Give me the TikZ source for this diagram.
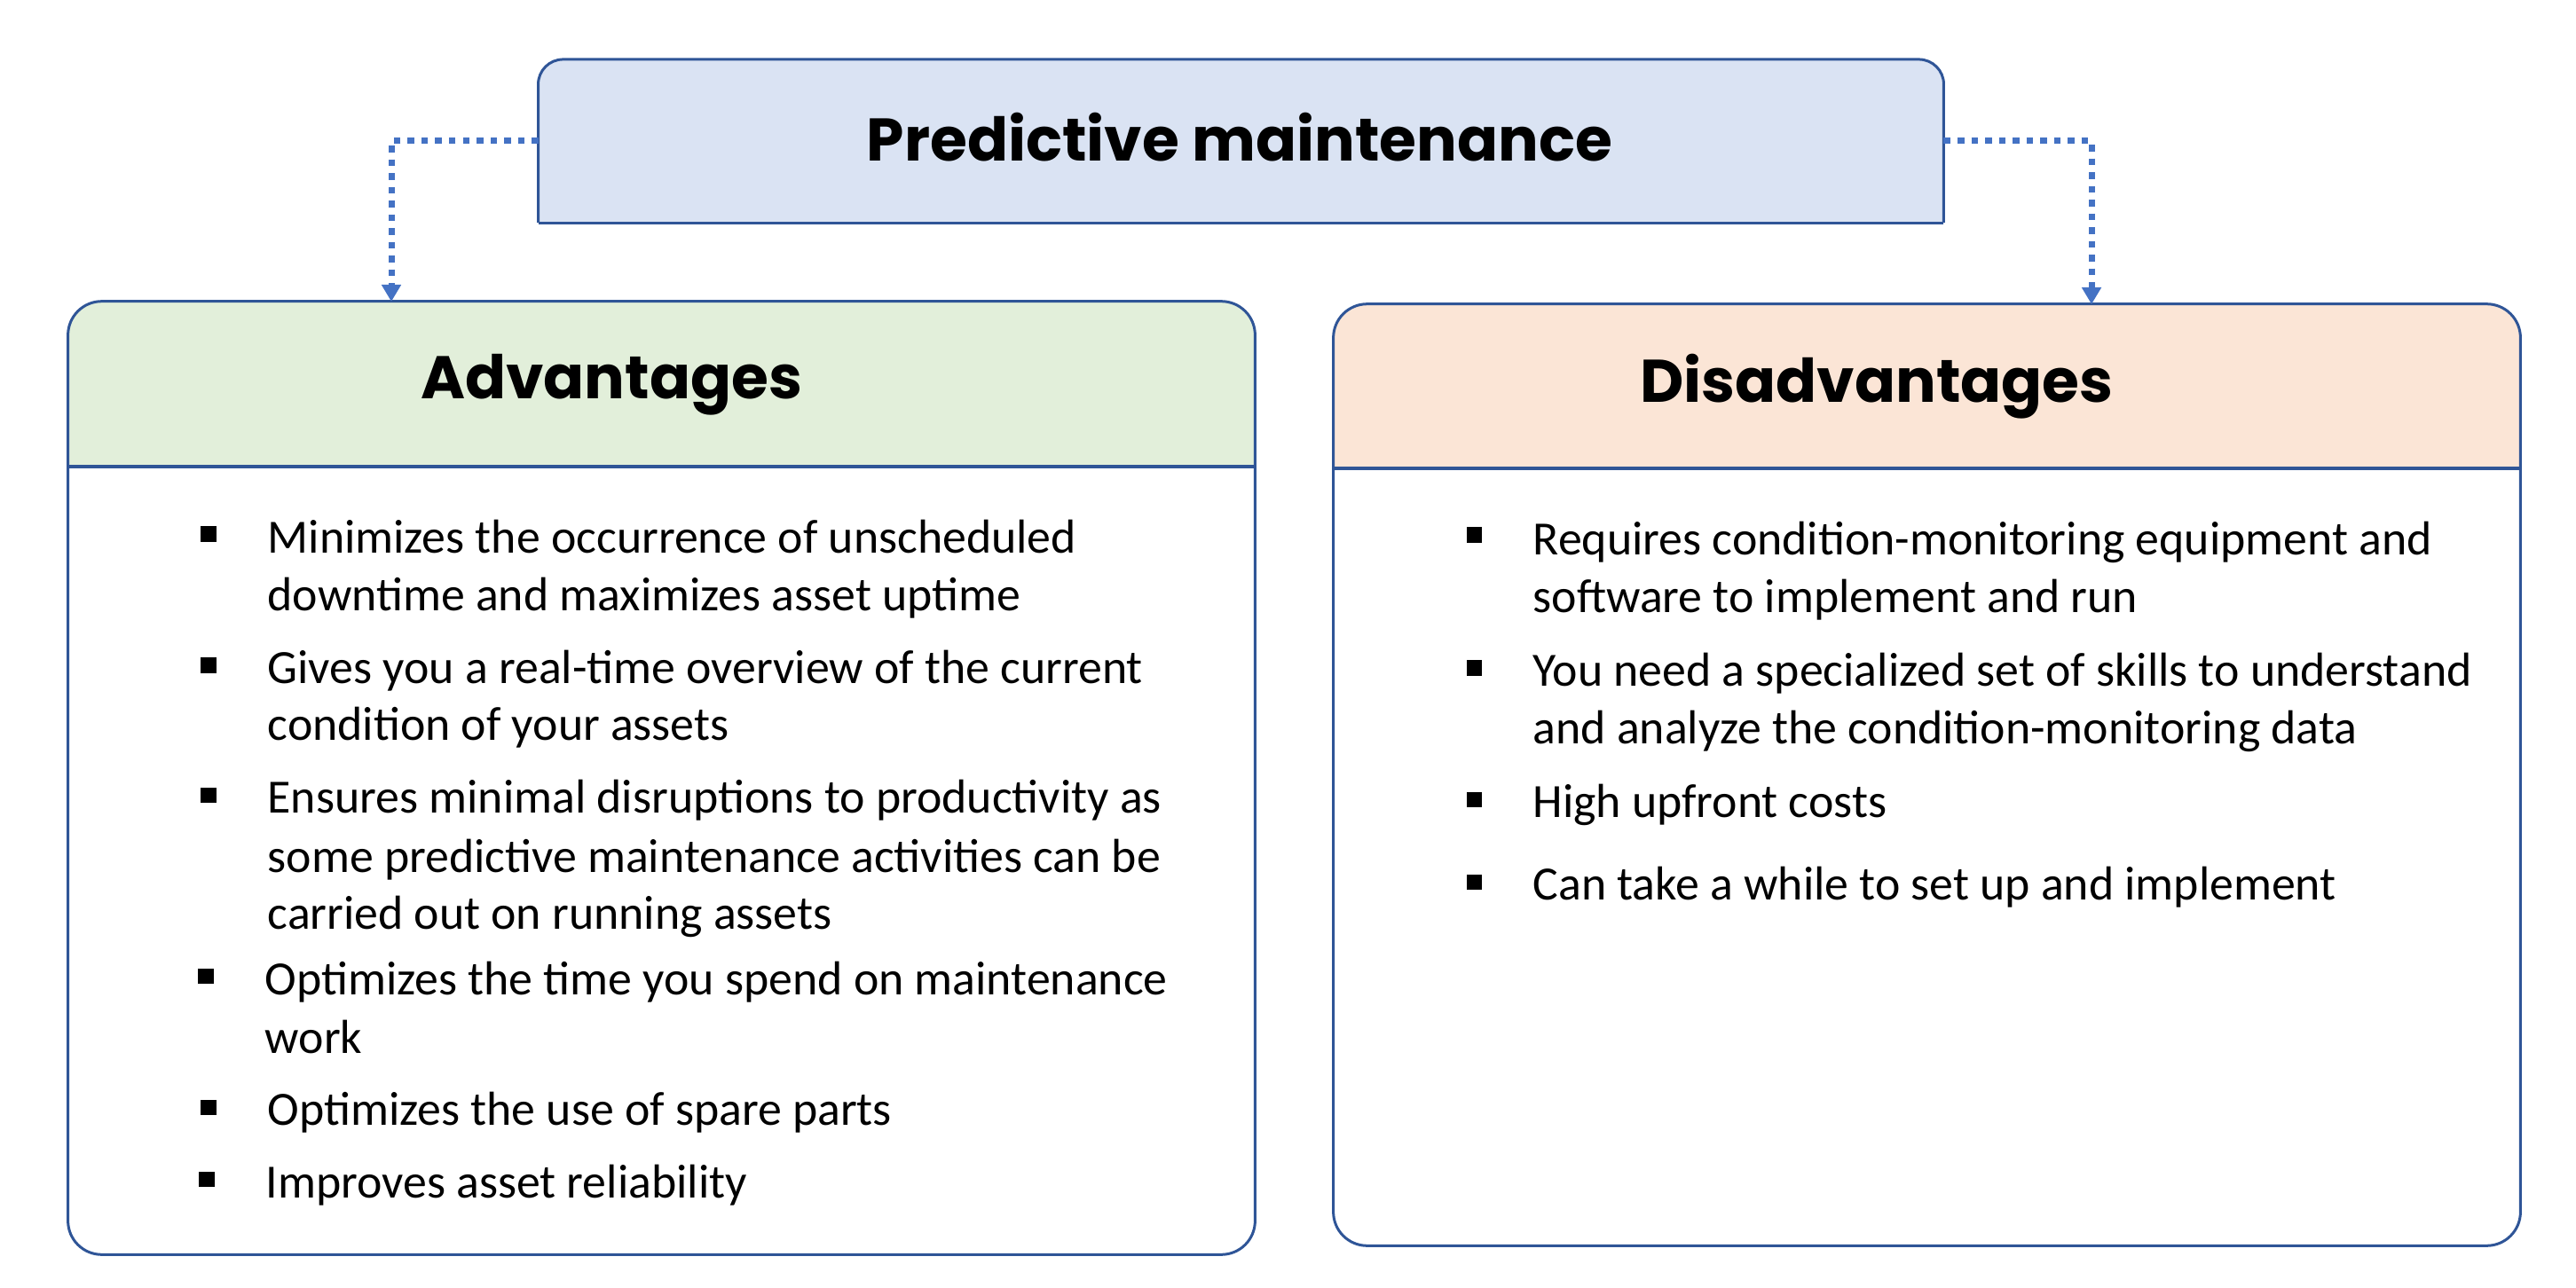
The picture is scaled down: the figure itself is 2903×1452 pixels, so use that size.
\documentclass[tikz,border=0pt]{standalone}
\usepackage{fontspec}
\setmainfont{Carlito}
\newfontfamily\popfont{Poppins}
\usetikzlibrary{arrows.meta}
\definecolor{bordercol}{HTML}{2F5597}
\definecolor{arrowcol}{HTML}{4472C4}
\definecolor{titlefill}{HTML}{DAE3F3}
\definecolor{advfill}{HTML}{E2EFDA}
\definecolor{disfill}{HTML}{FBE5D6}
\tikzset{
  frame/.style={draw=none,inner sep=0pt,outer sep=0pt},
  border/.style={draw=bordercol,line width=0.03cm},
  link/.style={draw=arrowcol,line width=0.07cm,dash pattern=on 0.075cm off 0.08cm,
    -{Triangle[width=0.21cm,length=0.19cm]}},
  head/.style={anchor=base,inner sep=0pt,font=\popfont\bfseries\fontsize{19.3}{23}\selectfont},
  item/.style={anchor=base west,inner sep=0pt,font=\fontsize{15.3}{18}\selectfont},
  bul/.style={fill=black,inner sep=0pt,minimum size=0.17cm}
}
\begin{document}
\begin{tikzpicture}[x=0.01cm,y=-0.01cm]
\useasboundingbox (0,0) rectangle (2903,1452);
% frames (named)
\node[frame,minimum width=15.83cm,minimum height=1.84cm] (title) at (1398.5,159) {};
\node[frame,minimum width=13.37cm,minimum height=10.74cm] (adv) at (745.5,877) {};
\node[frame,minimum width=13.37cm,minimum height=10.61cm] (dis) at (2171.5,873.5) {};
% title box
\fill[titlefill,rounded corners=0.28cm] (title.south west) -- (title.north west) -- (title.north east) -- (title.south east);
\draw[border,rounded corners=0.28cm] (title.south west) -- (title.north west) -- (title.north east) -- (title.south east);
\draw[border] (title.south east) -- (title.south west);
% advantages box
\fill[advfill,rounded corners=0.38cm] (adv.west |- 0,526) -- (adv.north west) -- (adv.north east) -- (adv.east |- 0,526);
\draw[border] (adv.west |- 0,526) -- (adv.east |- 0,526);
\draw[border,rounded corners=0.38cm] (adv.south west) rectangle (adv.north east);
% disadvantages box
\fill[disfill,rounded corners=0.38cm] (dis.west |- 0,528) -- (dis.north west) -- (dis.north east) -- (dis.east |- 0,528);
\draw[border] (dis.west |- 0,528) -- (dis.east |- 0,528);
\draw[border,rounded corners=0.38cm] (dis.south west) rectangle (dis.north east);
% headings
\node[head] (ttext) at (1397,182) {Predictive maintenance};
\node[head] (atext) at (689,450) {Advantages};
\node[head] (dtext) at (2115,453) {Disadvantages};
% connectors
\coordinate (advin) at (441,340);
\coordinate (disin) at (2357,343);
\draw[link] (title.west) -| (advin);
\draw[link] (title.east) -| (disin);
% advantages items
\node[bul] (ab1) at (235,602) {};
\node[item] (a1a) at (301,623) {Minimizes the occurrence of unscheduled};
\node[item] (a1b) at (301,688) {downtime and maximizes asset uptime};
\node[bul] (ab2) at (235,750) {};
\node[item] (a2a) at (301,770) {Gives you a real-time overview of the current};
\node[item] (a2b) at (301,834) {condition of your assets};
\node[bul] (ab3) at (235,896) {};
\node[item] (a3a) at (301,916) {Ensures minimal disruptions to productivity as};
\node[item] (a3b) at (301,983) {some predictive maintenance activities can be};
\node[item] (a3c) at (301,1047) {carried out on running assets};
\node[bul] (ab4) at (232,1100) {};
\node[item] (a4a) at (298,1121) {Optimizes the time you spend on maintenance};
\node[item] (a4b) at (298,1187) {work};
\node[bul] (ab5) at (235,1248) {};
\node[item] (a5) at (301,1268) {Optimizes the use of spare parts};
\node[bul] (ab6) at (233,1329) {};
\node[item] (a6) at (299,1350) {Improves asset reliability};
% disadvantages items
\node[bul] (db1) at (1661,603) {};
\node[item] (d1a) at (1727,625) {Requires condition-monitoring equipment and};
\node[item] (d1b) at (1727,690) {software to implement and run};
\node[bul] (db2) at (1661,753) {};
\node[item] (d2a) at (1727,773) {You need a specialized set of skills to understand};
\node[item] (d2b) at (1727,838) {and analyze the condition-monitoring data};
\node[bul] (db3) at (1661,901) {};
\node[item] (d3) at (1727,921) {High upfront costs};
\node[bul] (db4) at (1661,994) {};
\node[item] (d4) at (1727,1014) {Can take a while to set up and implement};
\end{tikzpicture}
\end{document}
